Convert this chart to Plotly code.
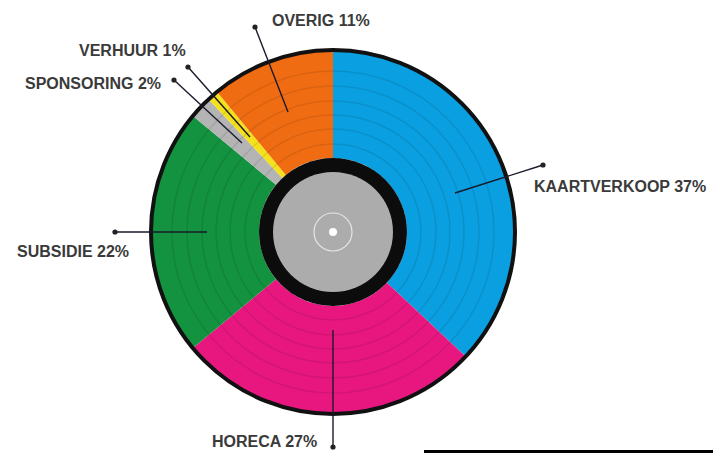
import plotly.graph_objects as go

# ---- data ----
categories = ["KAARTVERKOOP", "HORECA", "SUBSIDIE", "SPONSORING", "VERHUUR", "OVERIG"]
values = [37, 27, 22, 2, 1, 11]
colors = ["#0a9fe0", "#e8177f", "#13923f", "#b4b4b4", "#f4e11c", "#f06c12"]
labels = [f"{c} {v}%" for c, v in zip(categories, values)]

W, H = 713, 453
CX, CY, R = 333, 232, 183


def px(x):
    return x / W


def py(y):
    return 1 - y / H


fig = go.Figure()
fig.add_trace(go.Pie(
    labels=categories, values=values, sort=False, direction="clockwise", rotation=0,
    marker=dict(colors=colors, line=dict(width=0)),
    textinfo="none", hoverinfo="label+percent", hole=74 / R, showlegend=False,
    domain=dict(x=[px(CX - R), px(CX + R)], y=[py(CY + R), py(CY - R)]),
))

shapes = []


def circle(r, **kw):
    shapes.append(dict(type="circle", xref="paper", yref="paper",
                       x0=px(CX - r), x1=px(CX + r), y0=py(CY + r), y1=py(CY - r), **kw))


# grooves
for rr in [88, 103, 117, 131, 146, 161]:
    circle(rr, line=dict(color="rgba(0,0,0,0.09)", width=1.5))
# outer border
circle(R - 1, line=dict(color="#111111", width=4))
# center label
circle(74, fillcolor="#0c0c0c", line=dict(width=0))
circle(60, fillcolor="#acacac", line=dict(width=0))
circle(19, line=dict(color="#e6e6e6", width=1.2))
circle(4, fillcolor="#ffffff", line=dict(width=0))

# leader lines: (dot x, dot y, inner x, inner y), text anchor (x, y, xanchor)
leaders = {
    "KAARTVERKOOP": ((543, 165, 455, 193), (532, 186, "left")),
    "HORECA": ((333, 447, 333, 330), (319, 441, "right")),
    "SUBSIDIE": ((115, 232, 207, 232), (131, 251, "right")),
    "SPONSORING": ((174, 80, 242, 143), (163, 83, "right")),
    "VERHUUR": ((188, 67, 250, 137), (188, 50, "right")),
    "OVERIG": ((255, 27, 288, 112), (270, 20, "left")),
}
annotations = []
for cat, lab in zip(categories, labels):
    (dx, dy, ix, iy), (tx, ty, anc) = leaders[cat]
    shapes.append(dict(type="line", xref="paper", yref="paper",
                       x0=px(dx), y0=py(dy), x1=px(ix), y1=py(iy),
                       line=dict(color="#1a1a2a", width=1.4)))
    shapes.append(dict(type="circle", xref="paper", yref="paper",
                       x0=px(dx - 2.6), x1=px(dx + 2.6), y0=py(dy + 2.6), y1=py(dy - 2.6),
                       fillcolor="#222222", line=dict(width=0)))
    annotations.append(dict(text=lab, xref="paper", yref="paper", x=px(tx), y=py(ty),
                            xanchor=anc, yanchor="middle", showarrow=False,
                            font=dict(family="Liberation Sans, Arial, sans-serif",
                                      size=16, color="#3a3a3a", weight="bold")))

# bottom bar
shapes.append(dict(type="line", xref="paper", yref="paper", x0=px(424), x1=px(713),
                   y0=py(451.5), y1=py(451.5), line=dict(color="#000000", width=3)))

fig.update_layout(width=W, height=H, margin=dict(l=0, r=0, t=0, b=0),
                  paper_bgcolor="white", plot_bgcolor="white",
                  shapes=shapes, annotations=annotations)
fig.write_html("out.html", config={"displayModeBar": False},
               post_script="document.body.style.margin='0';document.body.style.overflow='hidden';")
